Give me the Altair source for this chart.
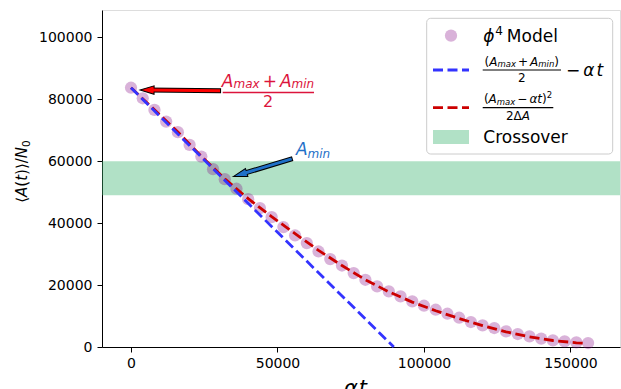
import math
import altair as alt
import pandas as pd

# ---------------- data ----------------
MODEL_X = [0, 4000, 8000, 12000, 16000, 20000, 24000, 28000, 32000, 36000,
           40000, 44000, 48000, 52000, 56000, 60000, 64000, 68000, 72000, 76000,
           80000, 84000, 88000, 92000, 96000, 100000, 104000, 108000, 112000, 116000,
           120000, 124000, 128000, 132000, 136000, 140000, 144000, 148000, 152000, 156000]
MODEL_Y = [83700, 80300, 76550, 72770, 69350, 65260, 61480, 57420, 54190, 51100,
           47740, 44840, 41940, 38710, 36000, 33550, 30840, 28390, 26300, 23870,
           21710, 19550, 17940, 16320, 14710, 13320, 12030, 10740, 9450, 8060,
           6970, 6130, 5030, 4190, 3420, 2680, 2130, 1810, 1480, 1290]

RED_X = [0, 8000, 16000, 24000, 32000, 40000, 48000, 56000, 64000, 72000, 80000,
         88000, 96000, 104000, 112000, 120000, 128000, 136000, 144000, 152000, 154500]
RED_Y = [83700, 76600, 69400, 61600, 54300, 47900, 42100, 36600, 31200, 26300, 21700,
         17800, 14500, 11700, 9200, 6900, 4900, 3300, 2100, 1350, 1200]

BLUE_X = [0, 89700]
BLUE_Y = [83700, 0]

BAND_LO = [49000]
BAND_HI = [60000]

X_TICKS = [0, 50000, 100000, 150000]
Y_TICKS = [0, 20000, 40000, 60000, 80000, 100000]
X_DOMAIN = [-9900, 166900]
Y_DOMAIN = [0, 108800]

# annotation arrows (tail -> tip), data coordinates
RED_ARROW_TAIL = [30400, 82770]
RED_ARROW_TIP = [3100, 83000]
BLUE_ARROW_TAIL = [54850, 60740]
BLUE_ARROW_TIP = [34910, 55030]

# annotation texts anchors (data coordinates)
FRAC_X = [46760]
FRAC_NUM_Y = [84060]
FRAC_DEN_Y = [77600]
FRAC_BAR_X = [31300, 62460]
FRAC_BAR_Y = [82130]
AMIN_X = [56300]
AMIN_Y = [61980]

# ---------------- style ----------------
FONT = "DejaVu Sans"
W, H = 518, 337
CRIMSON = "#dc143c"
AMIN_BLUE = "#1f70c8"
BLUE_LINE = "#3333ff"
RED_LINE = "#cc0000"
BAND_COLOR = "#3cb371"
PT_COLOR = "purple"

# DejaVu Sans advance widths (em)
WID = {" ": 0.318, "(": 0.390, ")": 0.390, "+": 0.838, "−": 0.838, "/": 0.337,
       "0": 0.636, "2": 0.636, "4": 0.636, "A": 0.684, "N": 0.748, "M": 0.863,
       "a": 0.613, "d": 0.635, "e": 0.615, "i": 0.278, "l": 0.278, "m": 0.974,
       "n": 0.634, "o": 0.612, "t": 0.392, "x": 0.592, "α": 0.66, "Δ": 0.684,
       "ϕ": 0.70, "⟨": 0.39, "⟩": 0.39}


def tw(s, size):
    return sum(WID.get(c, 0.6) for c in s) * size


xs = alt.Scale(domain=X_DOMAIN, nice=False, zero=False)
ys = alt.Scale(domain=Y_DOMAIN, nice=False, zero=False)

X_AX = alt.Axis(values=X_TICKS, format="d", title=None,
                labelFont=FONT, labelFontSize=14, labelPadding=4, tickSize=5,
                grid=False, labelFlush=False, labelOverlap=False,
                domainColor="black", tickColor="black", labelColor="black")
Y_AX = alt.Axis(values=Y_TICKS, format="d", title=None,
                labelFont=FONT, labelFontSize=14, labelPadding=5, tickSize=5,
                grid=False, labelFlush=False, labelOverlap=False,
                domainColor="black", tickColor="black", labelColor="black")


def X(f):
    return alt.X(f, type="quantitative", scale=xs, axis=X_AX)


def Y(f):
    return alt.Y(f, type="quantitative", scale=ys, axis=Y_AX)


ONE = pd.DataFrame({"k": [0]})


def mathtext(pieces, color, align="left", data=None, px=None, angle=0):
    """pieces: tuples (text, size, italic, dy) or a number = gap in px."""
    total = 0
    for p in pieces:
        total += p if isinstance(p, (int, float)) else tw(p[0], p[1])
    cur = -total / 2 if align == "center" else 0
    layers = []
    for p in pieces:
        if isinstance(p, (int, float)):
            cur += p
            continue
        t, s, it, dy = p
        mk = dict(text=t, font=FONT, fontSize=s, fontStyle="italic" if it else "normal",
                  align="left", baseline="alphabetic", color=color, dx=cur, dy=dy)
        if angle:
            mk["angle"] = angle
        if data is not None:
            ch = alt.Chart(pd.DataFrame({"x": [data[0]], "y": [data[1]]})).mark_text(**mk).encode(
                x=X("x"), y=Y("y"))
        else:
            ch = alt.Chart(ONE).mark_text(**mk).encode(x=alt.value(px[0]), y=alt.value(px[1]))
        layers.append(ch)
        cur += tw(t, s)
    return layers


band = alt.Chart(pd.DataFrame({"lo": BAND_LO, "hi": BAND_HI})).mark_rect(
    color=BAND_COLOR, opacity=0.4).encode(
    x=alt.value(0), x2=alt.value(W), y=Y("lo"), y2="hi:Q")

pts = alt.Chart(pd.DataFrame({"x": MODEL_X, "y": MODEL_Y})).mark_circle(
    size=150, color=PT_COLOR, opacity=0.3).encode(x=X("x"), y=Y("y"))

red = alt.Chart(pd.DataFrame({"x": RED_X, "y": RED_Y})).mark_line(
    color=RED_LINE, strokeDash=[10, 4.5], strokeWidth=2.8).encode(x=X("x"), y=Y("y"))

blue = alt.Chart(pd.DataFrame({"x": BLUE_X, "y": BLUE_Y})).mark_line(
    color=BLUE_LINE, strokeDash=[10, 4.5], strokeWidth=2.8).encode(x=X("x"), y=Y("y"))

PX_X = W / (X_DOMAIN[1] - X_DOMAIN[0])
PX_Y = H / (Y_DOMAIN[1] - Y_DOMAIN[0])
HEAD = "M 0 0 L 2 -0.6 L 2 0.6 Z"


def arrow(tail, tip, color):
    dxp = (tail[0] - tip[0]) * PX_X
    dyp = -(tail[1] - tip[1]) * PX_Y
    ang = math.degrees(math.atan2(dyp, dxp)) % 360
    L = math.hypot(dxp, dyp)
    ux, uy = dxp / L, dyp / L
    inner = [tip[0] + 8 * ux / PX_X, tip[1] - 8 * uy / PX_Y]
    tail_out = [tail[0] + 1 * ux / PX_X, tail[1] - 1 * uy / PX_Y]
    outer = alt.Chart(pd.DataFrame({"x": [tail_out[0]], "y": [tail_out[1]],
                                    "x2": [inner[0]], "y2": [inner[1]]})).mark_rule(
        color="black", strokeWidth=5, strokeCap="butt").encode(
        x=X("x"), y=Y("y"), x2="x2:Q", y2="y2:Q")
    head = alt.Chart(pd.DataFrame({"x": [tip[0]], "y": [tip[1]]})).mark_point(
        shape=HEAD, size=196, filled=True, fill=color, color=color, stroke="black",
        strokeWidth=1, opacity=1, angle=ang).encode(x=X("x"), y=Y("y"))
    core = alt.Chart(pd.DataFrame({"x": [tail[0]], "y": [tail[1]],
                                   "x2": [inner[0]], "y2": [inner[1]]})).mark_rule(
        color=color, strokeWidth=3, strokeCap="butt").encode(
        x=X("x"), y=Y("y"), x2="x2:Q", y2="y2:Q")
    return [outer, head, core]


arrows = arrow(RED_ARROW_TAIL, RED_ARROW_TIP, "red") + arrow(BLUE_ARROW_TAIL, BLUE_ARROW_TIP, AMIN_BLUE)

num = mathtext([("A", 17, True, 0), ("max", 12, True, 1.5), 3, ("+", 17, False, 0), 3,
                ("A", 17, True, 0), ("min", 12, True, 1.5)],
               CRIMSON, "center", data=(FRAC_X[0], FRAC_NUM_Y[0]))
den = mathtext([("2", 16, False, 0)], CRIMSON, "center", data=(FRAC_X[0], FRAC_DEN_Y[0]))
bar = alt.Chart(pd.DataFrame({"x": [FRAC_BAR_X[0]], "x2": [FRAC_BAR_X[1]], "y": FRAC_BAR_Y})).mark_rule(
    color=CRIMSON, strokeWidth=1.5).encode(x=X("x"), x2="x2:Q", y=Y("y"))
amin = mathtext([("A", 17, True, 0), ("min", 12, True, 3)], AMIN_BLUE, "left",
                data=(AMIN_X[0], AMIN_Y[0]))

# axis titles (mathtext-like)
xtitle = mathtext([("α", 21, True, 0), 1, ("t", 21, True, 0)], "black", "center",
                  px=(253.5, 384.5))
ytitle = mathtext([("⟨", 15, False, 0), ("A", 15, True, 0), ("(", 15, False, 0),
                   ("t", 15, True, 0), (")", 15, False, 0), ("⟩", 15, False, 0),
                   ("/", 15, False, 0), ("N", 15, True, 0), ("0", 10.5, False, 3)],
                  "black", "center", px=(-75.5, 161.5), angle=270)


# ---------------- manual legend (pixel positions inside the plot area) ----------------
def lrule(x1, x2, y, color, width, dash=None):
    kw = dict(color=color, strokeWidth=width)
    if dash:
        kw["strokeDash"] = dash
    return alt.Chart(ONE).mark_rule(**kw).encode(x=alt.value(x1), x2=alt.value(x2), y=alt.value(y))


legend = [
    alt.Chart(ONE).mark_rect(fill="white", fillOpacity=0.8, stroke="#cccccc", strokeWidth=1,
                             cornerRadius=4).encode(
        x=alt.value(324.7), x2=alt.value(510.7), y=alt.value(8.3), y2=alt.value(144)),
    alt.Chart(ONE).mark_circle(size=150, color=PT_COLOR, opacity=0.3).encode(
        x=alt.value(349), y=alt.value(25.7)),
    lrule(331, 367, 60, BLUE_LINE, 2.8, [10, 4.5]),
    lrule(380.7, 459, 60, "black", 1.2),
    lrule(331, 367, 97.7, RED_LINE, 2.8, [10, 4.5]),
    lrule(380.7, 451.3, 97.7, "black", 1.2),
    alt.Chart(ONE).mark_rect(color=BAND_COLOR, opacity=0.4).encode(
        x=alt.value(331), x2=alt.value(367), y=alt.value(120), y2=alt.value(134)),
]
legend += mathtext([("ϕ", 17, True, 0), ("4", 12, False, -7), 4, ("Model", 17, False, 0)],
                   "black", "left", px=(381.3, 31.7))
legend += mathtext([("(", 12, False, 0), ("A", 12, True, 0), ("max", 8.5, True, 1.3), 2,
                    ("+", 12, False, 0), 2, ("A", 12, True, 0), ("min", 8.5, True, 1.3),
                    (")", 12, False, 0)], "black", "center", px=(419.8, 55.5))
legend += mathtext([("2", 12, False, 0)], "black", "center", px=(419.8, 72))
legend += mathtext([("−", 17, False, 0), 3, ("α", 17, True, 0), 2, ("t", 17, True, 0)],
                   "black", "left", px=(464, 66))
legend += mathtext([("(", 12, False, 0), ("A", 12, True, 0), ("max", 8.5, True, 1.3), 2,
                    ("−", 12, False, 0), 2, ("α", 12, True, 0), ("t", 12, True, 0),
                    (")", 12, False, 0), ("2", 8.5, False, -5)], "black", "center",
                   px=(416, 93.3))
legend += mathtext([("2", 12, False, 0), ("Δ", 12, False, 0), ("A", 12, True, 0)],
                   "black", "center", px=(416, 110))
legend += mathtext([("Crossover", 17, False, 0)], "black", "left", px=(381.3, 133.3))

chart = alt.layer(band, pts, red, blue, *arrows, bar, *num, *den, *amin,
                  *xtitle, *ytitle, *legend).properties(
    width=W, height=H,
    autosize=alt.AutoSizeParams(type="none"),
    padding={"left": 102, "top": 10, "right": 1, "bottom": 42},
).configure_view(stroke="black", strokeWidth=1).configure(background="white")

chart.save("out.html", embed_options={"renderer": "svg", "actions": False})
